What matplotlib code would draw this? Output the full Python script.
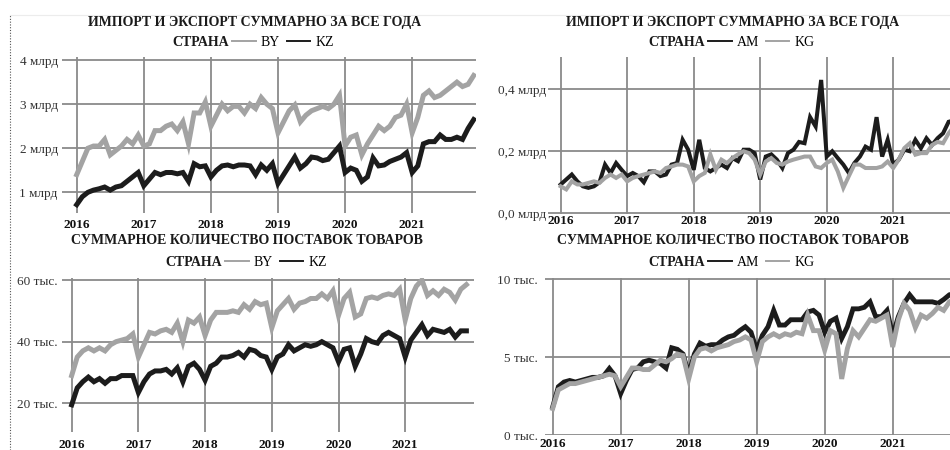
import numpy as np
import pandas as pd
import matplotlib
matplotlib.use('Agg')
import matplotlib.pyplot as plt
from matplotlib.lines import Line2D

plt.rcParams['font.family'] = ['Liberation Serif', 'DejaVu Serif']

# 1. Données (mensuelles, 2016-01 .. 2021-12)
months = pd.date_range('2016-01-01', periods=72, freq='MS')
years = [2016, 2017, 2018, 2019, 2020, 2021]

# import + export, млрд
trade_BY = [1.4, 1.7, 2.0, 2.05, 2.05, 2.2, 1.85, 1.95, 2.05, 2.2, 2.1, 2.3,
            2.05, 2.1, 2.4, 2.4, 2.5, 2.55, 2.4, 2.6, 2.1, 2.8, 2.8, 3.05,
            2.5, 2.75, 3.0, 2.85, 2.95, 2.95, 2.8, 3.0, 2.9, 3.15, 3.0, 2.9,
            2.35, 2.6, 2.85, 2.98, 2.6, 2.75, 2.85, 2.9, 2.95, 2.9, 3.0, 3.2,
            2.05, 2.25, 2.3, 1.85, 2.1, 2.3, 2.5, 2.4, 2.5, 2.7, 2.75, 3.0,
            2.35, 2.7, 3.2, 3.3, 3.15, 3.2, 3.3, 3.4, 3.5, 3.4, 3.45, 3.65]
trade_KZ = [0.72, 0.9, 1.0, 1.05, 1.08, 1.12, 1.05, 1.12, 1.15, 1.25, 1.35, 1.45,
            1.15, 1.3, 1.45, 1.4, 1.45, 1.45, 1.42, 1.45, 1.25, 1.65, 1.58, 1.6,
            1.35, 1.5, 1.6, 1.62, 1.58, 1.62, 1.62, 1.6, 1.4, 1.62, 1.5, 1.65,
            1.2, 1.4, 1.6, 1.8, 1.55, 1.65, 1.8, 1.78, 1.72, 1.75, 1.9, 2.05,
            1.45, 1.55, 1.5, 1.25, 1.35, 1.78, 1.6, 1.62, 1.7, 1.75, 1.8, 1.9,
            1.45, 1.6, 2.1, 2.15, 2.15, 2.3, 2.2, 2.2, 2.25, 2.2, 2.45, 2.65]
trade_AM = [0.093, 0.109, 0.125, 0.103, 0.087, 0.082, 0.087, 0.10, 0.157, 0.13, 0.162, 0.14,
            0.12, 0.13, 0.12, 0.10, 0.135, 0.135, 0.12, 0.125, 0.157, 0.162, 0.237, 0.205,
            0.14, 0.237, 0.146, 0.135, 0.146, 0.157, 0.146, 0.178, 0.168, 0.205, 0.205, 0.194,
            0.109, 0.183, 0.19, 0.173, 0.146, 0.194, 0.205, 0.23, 0.226, 0.31, 0.28, 0.43,
            0.183, 0.2, 0.178, 0.157, 0.13, 0.162, 0.183, 0.215, 0.205, 0.31, 0.183, 0.237,
            0.157, 0.173, 0.205, 0.2, 0.237, 0.21, 0.242, 0.22, 0.242, 0.258, 0.295, 0.30]
trade_KG = [0.087, 0.077, 0.103, 0.093, 0.093, 0.098, 0.103, 0.098, 0.114, 0.125, 0.114, 0.125,
            0.103, 0.114, 0.12, 0.125, 0.13, 0.135, 0.13, 0.146, 0.151, 0.157, 0.157, 0.151,
            0.103, 0.12, 0.13, 0.19, 0.14, 0.173, 0.162, 0.178, 0.19, 0.2, 0.194, 0.173,
            0.125, 0.167, 0.178, 0.162, 0.157, 0.167, 0.173, 0.178, 0.183, 0.183, 0.151, 0.146,
            0.162, 0.173, 0.135, 0.082, 0.12, 0.157, 0.157, 0.146, 0.146, 0.146, 0.151, 0.167,
            0.146, 0.173, 0.21, 0.226, 0.189, 0.194, 0.194, 0.22, 0.23, 0.226, 0.258, 0.28]

# nombre de livraisons, тыс.
ship_BY = [29, 35, 37, 38, 37, 38, 37, 39, 40, 40.5, 41, 42.5,
           35, 39, 43, 42.5, 43.5, 44, 43, 46, 40, 47, 46, 48,
           42, 47, 49.5, 49.5, 49.5, 50, 49.5, 52, 50.5, 53, 52, 52.5,
           44.5, 50, 52, 54, 50.5, 52.5, 53, 54, 54, 55.5, 54, 56.5,
           48.5, 54, 56, 48, 49, 54, 54.5, 54, 55, 55.5, 55, 57,
           47, 54, 58, 60, 55, 56.5, 55, 57, 56, 53.5, 57, 58.5]
ship_KZ = [19.5, 25, 27, 28.5, 27, 28, 26.5, 28, 28, 29, 29, 29,
           23.5, 27, 29.5, 30.5, 30.5, 31, 29.5, 31.5, 27, 32, 33, 31,
           27.5, 32, 33, 35, 35, 35.5, 36.5, 35, 37.5, 37, 35.5, 35,
           31, 35, 36, 39, 37, 38, 39, 38.5, 39, 40, 39, 38,
           33.5, 37.5, 38, 32, 36, 41, 40, 39.5, 42, 43, 42, 41,
           35, 40.5, 43, 45.5, 42, 44, 43.5, 43, 44, 41.5, 43.5, 43.5]
ship_AM = [1.8, 3.1, 3.4, 3.5, 3.4, 3.5, 3.6, 3.7, 3.7, 3.8, 4.27, 3.8,
           2.66, 3.5, 4.2, 4.3, 4.7, 4.8, 4.7, 4.6, 4.3, 5.6, 5.5, 5.2,
           3.9, 5.2, 5.9, 5.7, 5.8, 5.8, 6.1, 6.3, 6.4, 6.7, 6.95, 6.6,
           5.45, 6.4, 6.95, 8.0, 7.06, 7.06, 7.4, 7.4, 7.4, 7.9, 8.0, 7.7,
           6.6, 7.3, 7.5, 6.2, 6.95, 8.1, 8.1, 8.2, 8.55, 7.6, 7.6, 8.0,
           6.4, 7.6, 8.45, 9.0, 8.55, 8.55, 8.55, 8.55, 8.45, 8.7, 9.0, 9.1]
ship_KG = [1.7, 2.9, 3.1, 3.3, 3.3, 3.4, 3.5, 3.6, 3.7, 3.8, 3.9, 3.8,
           3.1, 3.7, 4.3, 4.3, 4.2, 4.2, 4.5, 4.8, 4.7, 4.9, 5.2, 5.1,
           3.6, 5.0, 5.5, 5.6, 5.4, 5.6, 5.7, 5.8, 6.0, 6.1, 6.3, 6.1,
           4.7, 6.0, 6.3, 6.5, 6.3, 6.5, 6.4, 6.6, 6.5, 7.7, 6.7, 6.7,
           5.45, 6.7, 6.5, 3.6, 5.55, 6.7, 6.3, 6.85, 7.4, 7.3, 7.5, 7.7,
           5.65, 7.4, 8.45, 8.0, 6.9, 7.7, 7.5, 7.8, 8.2, 8.0, 8.55, 8.7]

title_trade = 'ИМПОРТ И ЭКСПОРТ СУММАРНО ЗА ВСЕ ГОДА'
title_ship = 'СУММАРНОЕ КОЛИЧЕСТВО ПОСТАВОК ТОВАРОВ'

GRAY = '#a3a3a3'
BLACK = '#1c1c1c'
GRID = '#8a8a8a'
W, H = 950, 450

x = months.year + (months.month - 1) / 12


def box(l, t, r, b):
    return [l / W, 1 - b / H, (r - l) / W, (b - t) / H]


fig = plt.figure(figsize=(9.5, 4.5), dpi=100)


def panel(pos, xlim, ylim, yticks, ylabels, series, lw, ypad, xpad,
          title, title_xy, leg_xy, names):
    ax = fig.add_axes(box(*pos))
    ax.set_facecolor('none')
    for vals, col in series:
        ax.plot(x, vals, color=col, lw=lw, solid_joinstyle='miter', zorder=3)
    ax.set_xlim(*xlim)
    ax.set_ylim(*ylim)
    ax.set_xticks(years)
    ax.set_xticklabels([str(y) for y in years], fontweight='bold',
                       fontsize=9.5, color='#111111')
    ax.set_yticks(yticks)
    ax.set_yticklabels(ylabels, fontsize=9.5, color='#333333')
    ax.tick_params(axis='both', length=0)
    ax.tick_params(axis='y', pad=ypad)
    ax.tick_params(axis='x', pad=xpad)
    ax.grid(True, color=GRID, lw=1.3)
    for s in ax.spines.values():
        s.set_visible(False)
    fig.text(title_xy[0] / W, 1 - title_xy[1] / H, title, ha='center',
             va='center', fontweight='bold', fontsize=10, color='#1a1a1a')
    fig.text((leg_xy[0] - 3) / W, 1 - leg_xy[1] / H, 'СТРАНА', ha='right',
             va='center', fontweight='bold', fontsize=10, color='#1a1a1a')
    handles = [Line2D([], [], color=col, lw=1.4) for _, col in series]
    ax.legend(handles, names, loc='center left', ncol=2, frameon=False,
              bbox_to_anchor=(leg_xy[0] / W, 1 - leg_xy[1] / H),
              bbox_transform=fig.transFigure, borderpad=0, borderaxespad=0,
              handlelength=1.7, handletextpad=0.35, columnspacing=0.5,
              prop={'size': 10})
    return ax


panel((62, 57, 476, 213), (2015.781, 2021.951), (0.531, 4.07),
      [1, 2, 3, 4], ['1 млрд', '2 млрд', '3 млрд', '4 млрд'],
      [(trade_BY, GRAY), (trade_KZ, BLACK)], 3.6, 3, 4,
      title_trade, (255, 22.7), (232, 42), ['BY', 'KZ'])

panel((548, 57, 1000, 214), (2015.809, 2022.606), (-0.0023, 0.504),
      [0, 0.2, 0.4], ['0,0 млрд', '0,2 млрд', '0,4 млрд'],
      [(trade_AM, BLACK), (trade_KG, GRAY)], 2.9, 1.5, 1,
      title_trade, (732.5, 22.7), (708, 42), ['AM', 'KG'])

panel((62, 278, 474, 432), (2015.855, 2022.031), (10.69, 60.65),
      [20, 40, 60], ['20 тыс.', '40 тыс.', '60 тыс.'],
      [(ship_BY, GRAY), (ship_KZ, BLACK)], 3.6, 3, 5,
      title_ship, (247, 241), (225, 262), ['BY', 'KZ'])

panel((545, 278, 1000, 435), (2015.887, 2022.578), (0, 10.08),
      [0, 5, 10], ['0 тыс.', '5 тыс.', '10 тыс.'],
      [(ship_AM, BLACK), (ship_KG, GRAY)], 3.5, 5, 2,
      title_ship, (733, 241), (708, 262), ['AM', 'KG'])

# cadre de la capture d'écran
fig.add_artist(Line2D([10 / W, 10 / W], [0, 1 - 15 / H], transform=fig.transFigure,
                      color='#555555', lw=0.8, ls=(0, (1, 1.5))))
fig.add_artist(Line2D([10 / W, 1], [1 - 15 / H, 1 - 15 / H], transform=fig.transFigure,
                      color='#ececec', lw=0.8))

fig.savefig('out.png', dpi=100)
plt.close(fig)
